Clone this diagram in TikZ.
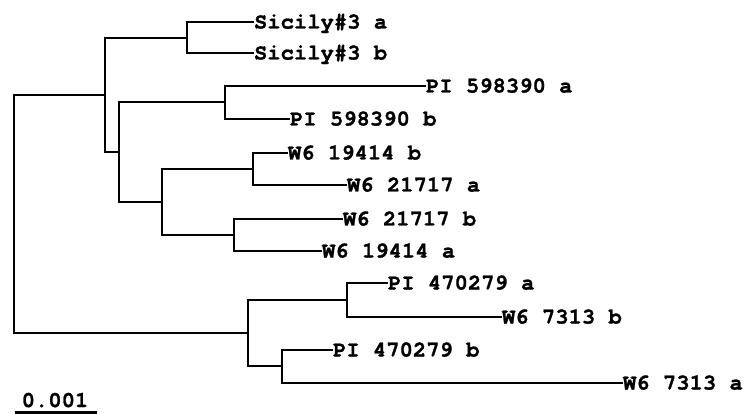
\documentclass[tikz,border=0pt]{standalone}
\usepackage{fontspec}
\setmonofont{texgyrecursor}[Extension=.otf,UprightFont=*-regular,BoldFont=*-bold,
  BoldFeatures={FakeBold=1.2}]
\begin{document}
\begin{tikzpicture}[x=1pt,y=-1pt,
  branch/.style={line width=2.2pt,line join=miter},
  lbl/.style={inner sep=0pt,outer sep=0pt,font=\fontsize{22.2}{24}\selectfont\ttfamily\bfseries},
  leaf/.style={lbl,anchor=west,text height=13pt,text depth=0pt}]
\useasboundingbox (0,0) rectangle (744,414);
% internal nodes of the tree (x = depth, y = middle of the children)
\coordinate (root) at (14,214);
\coordinate (A) at (105,95);
\coordinate (S) at (187,38);
\coordinate (B) at (119,152);
\coordinate (P) at (225,102);
\coordinate (C) at (162,202);
\coordinate (D) at (253,169);
\coordinate (E) at (234,235);
\coordinate (F) at (248,333);
\coordinate (G) at (347,300);
\coordinate (H) at (282,366);
% leaves
\node[leaf] (s3a) at (254,22) {Sicily\#3 a};
\node[leaf] (s3b) at (254,53) {Sicily\#3 b};
\node[leaf] (pi5a) at (426,86) {PI 598390 a};
\node[leaf] (pi5b) at (290,119) {PI 598390 b};
\node[leaf] (w19b) at (288,153) {W6 19414 b};
\node[leaf] (w21a) at (347,185) {W6 21717 a};
\node[leaf] (w21b) at (343,219) {W6 21717 b};
\node[leaf] (w19a) at (322,251) {W6 19414 a};
\node[leaf] (pi4a) at (388,283) {PI 470279 a};
\node[leaf] (w73b) at (502,317) {W6 7313 b};
\node[leaf] (pi4b) at (333,350) {PI 470279 b};
\node[leaf] (w73a) at (623,383) {W6 7313 a};
% branches
\draw[branch] (root) |- (A);
\draw[branch] (root) |- (F);
\draw[branch] (A) |- (S);
\draw[branch] (A) |- (B);
\draw[branch] (S) |- (s3a.west);
\draw[branch] (S) |- (s3b.west);
\draw[branch] (B) |- (P);
\draw[branch] (B) |- (C);
\draw[branch] (P) |- (pi5a.west);
\draw[branch] (P) |- (pi5b.west);
\draw[branch] (C) |- (D);
\draw[branch] (C) |- (E);
\draw[branch] (D) |- (w19b.west);
\draw[branch] (D) |- (w21a.west);
\draw[branch] (E) |- (w21b.west);
\draw[branch] (E) |- (w19a.west);
\draw[branch] (F) |- (G);
\draw[branch] (F) |- (H);
\draw[branch] (G) |- (pi4a.west);
\draw[branch] (G) |- (w73b.west);
\draw[branch] (H) |- (pi4b.west);
\draw[branch] (H) |- (w73a.west);
% scale bar
\coordinate (sbL) at (15,412.5);
\coordinate (sbR) at (97,412.5);
\draw[branch] (sbL) -- (sbR);
\node[lbl,anchor=base] (sbtxt) at (55,407) {0.001};
\end{tikzpicture}
\end{document}
